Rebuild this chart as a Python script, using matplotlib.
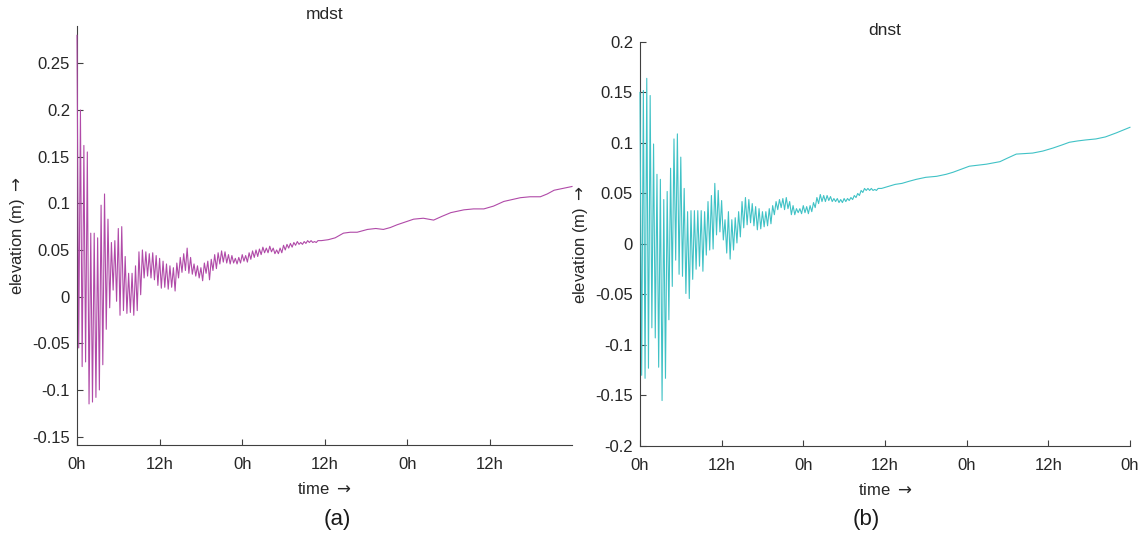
import numpy as np
import matplotlib
matplotlib.use("Agg")
import matplotlib.pyplot as plt

plt.rcParams['font.family'] = ['Liberation Sans', 'DejaVu Sans']
plt.rcParams['mathtext.fontset'] = 'dejavusans'

# sampling step of the oscillating part (hours) -- values are read at each half period
STEP = 0.25

mdst_osc = [0.28, -0.055, 0.2, -0.075, 0.162, -0.07, 0.155, -0.115, 0.068, -0.113,
            0.068, -0.108, 0.063, -0.10, 0.098, -0.073, 0.11, -0.035, 0.083, -0.012,
            0.058, 0.007, 0.06, -0.005, 0.073, -0.02, 0.075, -0.015, 0.043, -0.018,
            0.025, -0.017, 0.025, -0.02, 0.033, -0.015, 0.048, 0.002, 0.05, 0.02,
            0.048, 0.022, 0.046, 0.02, 0.047, 0.018, 0.044, 0.012, 0.041, 0.009,
            0.038, 0.01, 0.035, 0.008, 0.033, 0.01, 0.031, 0.006, 0.036, 0.02,
            0.042, 0.026, 0.046, 0.028, 0.052, 0.025, 0.042, 0.024, 0.035, 0.022,
            0.033, 0.02, 0.031, 0.017, 0.036, 0.025, 0.038, 0.018, 0.04, 0.028,
            0.045, 0.03, 0.047, 0.035, 0.049, 0.037, 0.048, 0.036, 0.045, 0.035,
            0.044, 0.036, 0.041, 0.035, 0.042, 0.036, 0.045, 0.038, 0.044, 0.037,
            0.047, 0.04, 0.049, 0.042, 0.05, 0.043, 0.051, 0.045, 0.053, 0.047,
            0.052, 0.047, 0.054, 0.048, 0.052, 0.046, 0.05, 0.046, 0.052, 0.047,
            0.055, 0.05, 0.056, 0.052, 0.057, 0.053, 0.058, 0.055, 0.059, 0.056,
            0.058, 0.056, 0.059, 0.057, 0.06, 0.058, 0.06, 0.058, 0.059, 0.058,
            0.06]
mdst_smooth_t = [35.5, 36.5, 37.5, 38.7, 39.7, 40.7, 42.2, 43.4, 44.5, 45.5,
                 46.5, 47.7, 48.9, 50.3, 51.8, 53.0, 54.3, 56.2, 57.6, 59.1,
                 60.5, 62.0, 63.2, 64.4, 65.8, 67.3, 68.3, 69.3, 70.6, 71.9]
mdst_smooth_v = [0.06, 0.061, 0.063, 0.068, 0.069, 0.069, 0.072, 0.073, 0.072, 0.074,
                 0.077, 0.08, 0.083, 0.084, 0.082, 0.086, 0.09, 0.093, 0.094, 0.094,
                 0.097, 0.102, 0.104, 0.106, 0.107, 0.107, 0.11, 0.114, 0.116, 0.118]

dnst_osc = [0.15, -0.13, 0.152, -0.133, 0.164, -0.123, 0.147, -0.083, 0.099, -0.093,
            0.069, -0.122, 0.064, -0.155, 0.044, -0.133, 0.052, -0.075, 0.075, -0.042,
            0.104, -0.016, 0.109, -0.03, 0.086, -0.032, 0.055, -0.049, 0.032, -0.054,
            0.033, -0.035, 0.033, -0.025, 0.033, -0.022, 0.033, -0.027, 0.032, -0.011,
            0.042, -0.006, 0.048, -0.005, 0.06, 0.009, 0.053, 0.012, 0.043, 0.004,
            0.024, -0.009, 0.032, -0.015, 0.024, -0.006, 0.026, 0.001, 0.032, 0.007,
            0.042, 0.016, 0.046, 0.019, 0.044, 0.021, 0.04, 0.018, 0.037, 0.014,
            0.035, 0.015, 0.032, 0.017, 0.032, 0.018, 0.035, 0.02, 0.038, 0.029,
            0.042, 0.034, 0.044, 0.036, 0.045, 0.034, 0.046, 0.035, 0.042, 0.029,
            0.038, 0.029, 0.035, 0.031, 0.035, 0.03, 0.038, 0.031, 0.037, 0.03,
            0.038, 0.032, 0.041, 0.036, 0.046, 0.04, 0.049, 0.042, 0.048, 0.042,
            0.048, 0.043, 0.047, 0.042, 0.045, 0.042, 0.045, 0.041, 0.044, 0.041,
            0.045, 0.042, 0.045, 0.043, 0.046, 0.044, 0.048, 0.046, 0.05, 0.048,
            0.053, 0.051, 0.055, 0.053, 0.055, 0.053, 0.055, 0.053, 0.054, 0.053,
            0.055]
dnst_smooth_t = [35.5, 36.5, 37.5, 38.5, 39.5, 40.6, 42.0, 43.6, 45.0, 46.0,
                 47.2, 48.4, 49.6, 50.9, 52.9, 54.0, 55.3, 56.5, 57.7, 59.2,
                 60.7, 62.0, 63.1, 64.3, 65.5, 67.0, 68.4, 70.0, 72.0]
dnst_smooth_v = [0.055, 0.057, 0.059, 0.06, 0.062, 0.064, 0.066, 0.067, 0.069, 0.071,
                 0.074, 0.077, 0.078, 0.079, 0.0815, 0.085, 0.089, 0.0895, 0.09, 0.092,
                 0.095, 0.098, 0.1007, 0.102, 0.103, 0.104, 0.106, 0.11, 0.1155]

tick_hours_a = [0, 12, 24, 36, 48, 60]
tick_labels_a = ['0h', '12h', '0h', '12h', '0h', '12h']
tick_hours_b = [0, 12, 24, 36, 48, 60, 72]
tick_labels_b = ['0h', '12h', '0h', '12h', '0h', '12h', '0h']
yticks_a = [-0.15, -0.1, -0.05, 0, 0.05, 0.1, 0.15, 0.2, 0.25]
yticks_b = [-0.2, -0.15, -0.1, -0.05, 0, 0.05, 0.1, 0.15, 0.2]


def series(osc, st, sv):
    t = np.concatenate([np.arange(len(osc)) * STEP, st])
    v = np.concatenate([osc, sv])
    return t, v


axc = '#262626'
fig = plt.figure(figsize=(11.44, 5.34), dpi=100)
ax1 = fig.add_axes([0.0673, 0.1667, 0.4327, 0.7846])
ax2 = fig.add_axes([0.5594, 0.1648, 0.4283, 0.7566])

t, v = series(mdst_osc, mdst_smooth_t, mdst_smooth_v)
ax1.plot(t, v, color='#B04AA8', lw=0.8, zorder=3, clip_on=False)
t, v = series(dnst_osc, dnst_smooth_t, dnst_smooth_v)
ax2.plot(t, v, color='#40C2C6', lw=0.8, zorder=3, clip_on=False)

for ax, title, xl, yl, xt, xtl, yt in [
        (ax1, 'mdst', (0, 71.9), (-0.159, 0.29), tick_hours_a, tick_labels_a, yticks_a),
        (ax2, 'dnst', (0, 72), (-0.2, 0.2), tick_hours_b, tick_labels_b, yticks_b)]:
    ax.set_xlim(*xl)
    ax.set_ylim(*yl)
    ax.set_xticks(xt)
    ax.set_xticklabels(xtl)
    ax.set_yticks(yt)
    ax.set_yticklabels(['%g' % y for y in yt])
    ax.spines['top'].set_visible(False)
    ax.spines['right'].set_visible(False)
    for s in ('left', 'bottom'):
        ax.spines[s].set_color('#404040')
        ax.spines[s].set_linewidth(0.8)
    ax.tick_params(direction='in', length=4, width=0.8, colors='#404040',
                   labelcolor=axc, labelsize=12)
    ax.tick_params(axis='x', pad=9)
    ax.tick_params(axis='y', pad=5)
    ax.set_title(title, fontsize=12.5, color=axc, pad=5)
    ax.set_xlabel(r'time $\rightarrow$', fontsize=12, color=axc, labelpad=6)
    ax.set_ylabel(r'elevation (m) $\rightarrow$', fontsize=12, color=axc, labelpad=4)

fig.text(0.2946, 0.028, '(a)', fontsize=16, ha='center', va='center', color='#1a1a1a')
fig.text(0.757, 0.028, '(b)', fontsize=16, ha='center', va='center', color='#1a1a1a')

fig.savefig('out.png', dpi=100)
